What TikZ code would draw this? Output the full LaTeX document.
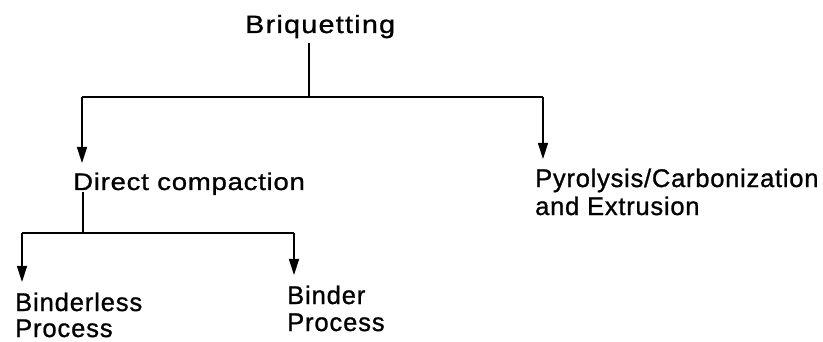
\documentclass[tikz,border=0pt]{standalone}
\usepackage{fontspec}
\setmainfont{Liberation Sans}[FakeBold=1]
\usetikzlibrary{arrows.meta}
% widen and track a label's lettering
\newcommand{\track}[1]{\addfontfeature{LetterSpace=#1}}
\newcommand{\widen}[1]{\addfontfeature{FakeStretch=#1}}
\begin{document}
\begin{tikzpicture}[x=1pt,y=-1pt,
  label/.style={inner sep=0pt, anchor=base west, align=left},
  link/.style={line width=1.4pt},
  branch/.style={link, -{Triangle[length=16pt,width=10pt]}}]
  \useasboundingbox (0,0) rectangle (823,342);

  % labels (multi-line labels are placed by the baseline of their last line)
  \node[label, font=\fontsize{25}{28}\selectfont\widen{1.15}\track{5}] (brq) at (245,33) {Briquetting};
  \node[label, font=\fontsize{24}{28}\selectfont\widen{1.15}\track{3}] (dc) at (73,190) {Direct compaction};
  \node[label, font=\fontsize{25.5}{28}\selectfont\track{3}] (pyr) at (535,215) {Pyrolysis/Carbonization\\and Extrusion};
  \node[label, font=\fontsize{25.5}{26}\selectfont\track{3.5}] (bl) at (15,337) {Binderless\\Process};
  \node[label, font=\fontsize{25.5}{27}\selectfont\track{3.5}] (bd) at (287,331) {Binder\\Process};

  % junction points of the tree
  \coordinate (top) at (309,97);
  \coordinate (tl) at (82,97);
  \coordinate (tr) at (543,97);
  \coordinate (mid) at (83,233);
  \coordinate (ml) at (22,233);
  \coordinate (mr) at (294,233);

  % first level
  \draw[link] (309,43) -- (top);
  \draw[link] (tl) -- (tr);
  \draw[branch] (tl) -- (82,163);
  \draw[branch] (tr) -- (543,159);

  % second level
  \draw[link] (83,192) -- (mid);
  \draw[link] (ml) -- (mr);
  \draw[branch] (ml) -- (22,282);
  \draw[branch] (mr) -- (294,275);
\end{tikzpicture}
\end{document}
